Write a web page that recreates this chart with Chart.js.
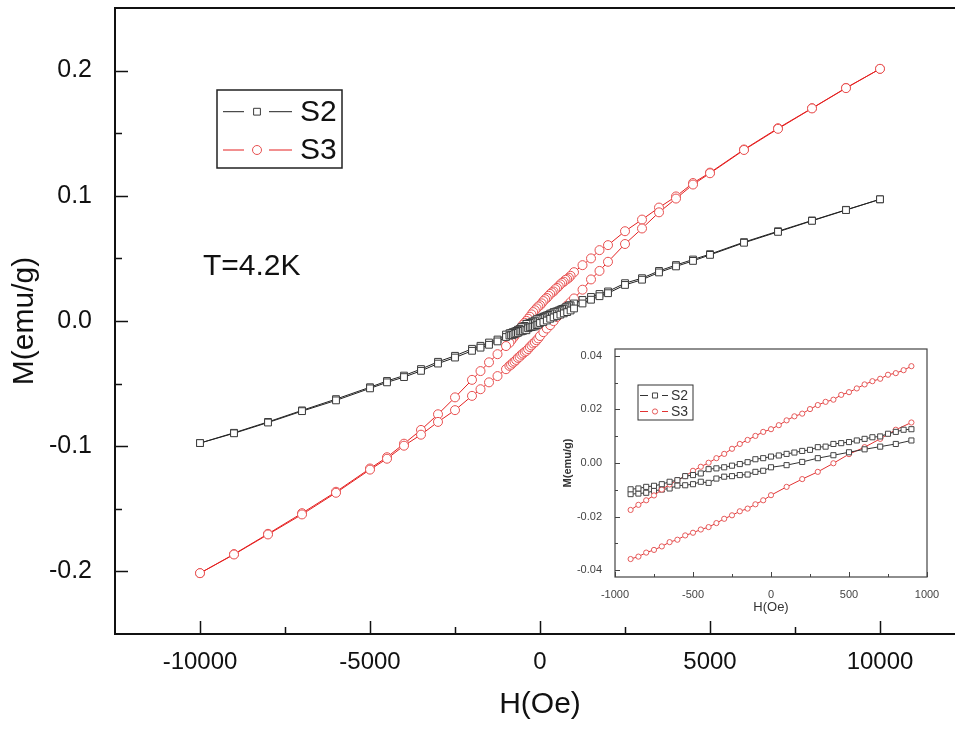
<!DOCTYPE html>
<html>
<head>
<meta charset="utf-8">
<script src="https://cdn.jsdelivr.net/npm/chart.js@4.4.1/dist/chart.umd.min.js"></script>
<style>
  html, body { margin: 0; padding: 0; background: #fff; overflow: hidden; }
  #wrap { position: relative; width: 955px; height: 729px; overflow: hidden; background: #fff; }
  #mainChart { position: absolute; left: 0; top: 0; }
  #insetChart { position: absolute; left: 555px; top: 340px; }
</style>
</head>
<body>
<div id="wrap">
  <canvas id="mainChart" width="985" height="729"></canvas>
  <canvas id="insetChart" width="395" height="280"></canvas>
</div>
<script>
// field values (Oe), in measurement order
const hHighDown = [10000, 9000, 8000, 7000, 6000, 5000, 4500, 4000, 3500, 3000, 2500, 2000, 1750, 1500, 1250, 1000];
const hInnerDown = [900, 850, 800, 750, 700, 650, 600, 550, 500, 450, 400, 350, 300, 250, 200, 150, 100, 50, 0,
  -50, -100, -150, -200, -250, -300, -350, -400, -450, -500, -550, -600, -650, -700, -750, -800, -850, -900];
const hLowDown = [-1000, -1250, -1500, -1750, -2000, -2500, -3000, -3500, -4000, -4500, -5000, -6000, -7000, -8000, -9000, -10000];
const hLowUp = [-10000, -9000, -8000, -7000, -6000, -5000, -4500, -4000, -3500, -3000, -2500, -2000, -1750, -1500, -1250, -1000];
const hInnerUp = [-900, -850, -800, -750, -700, -650, -600, -550, -500, -450, -400, -350, -300, -250, -200, -150, -100, -50, 0,
  100, 200, 300, 400, 500, 600, 700, 800, 900];
const hHighUp = [1000, 1250, 1500, 1750, 2000, 2500, 3000, 3500, 4000, 4500, 5000, 6000, 7000, 8000, 9000, 10000];

// S2 magnetization (emu/g)
const s2HighDown = [0.0972, 0.0888, 0.0803, 0.0717, 0.0630, 0.0534, 0.0491, 0.0447, 0.0400, 0.0342, 0.0302, 0.0236, 0.0216, 0.0192, 0.0168, 0.0140];
const s2InnerDown = [0.0126, 0.0124, 0.0116, 0.0109, 0.0099, 0.0096, 0.0090, 0.0084, 0.0078, 0.0074, 0.0071, 0.0061, 0.0059, 0.0049, 0.0045, 0.0039, 0.0034, 0.0028, 0.0024,
  0.0018, 0.0014, 0.0003, -0.0004, -0.0010, -0.0016, -0.0020, -0.0023, -0.0039, -0.0045, -0.0049, -0.0064, -0.0070, -0.0079, -0.0085, -0.0089, -0.0095, -0.0098];
const s2LowDown = [-0.0108, -0.0148, -0.0172, -0.0198, -0.0222, -0.0278, -0.0326, -0.0384, -0.0436, -0.0479, -0.0529, -0.0624, -0.0714, -0.0806, -0.0893, -0.0975];
const s2LowUp = [-0.0975, -0.0897, -0.0811, -0.0720, -0.0634, -0.0538, -0.0490, -0.0448, -0.0398, -0.0340, -0.0292, -0.0238, -0.0213, -0.0190, -0.0163, -0.0128];
const s2InnerUp = [-0.0116, -0.0114, -0.0111, -0.0104, -0.0099, -0.0095, -0.0084, -0.0083, -0.0079, -0.0070, -0.0074, -0.0058, -0.0051, -0.0049, -0.0045, -0.0043, -0.0033, -0.0029, -0.0016,
  -0.0008, 0.0004, 0.0018, 0.0029, 0.0040, 0.0051, 0.0061, 0.0071, 0.0084];
const s2HighUp = [0.0100, 0.0140, 0.0170, 0.0198, 0.0222, 0.0288, 0.0330, 0.0388, 0.0436, 0.0480, 0.0528, 0.0625, 0.0712, 0.0800, 0.0886, 0.0972];

// S3 magnetization (emu/g)
const s3HighDown = [0.2014, 0.1862, 0.1700, 0.1540, 0.1370, 0.1185, 0.1102, 0.0995, 0.0906, 0.0810, 0.0717, 0.0606, 0.0566, 0.0500, 0.0446, 0.0390];
const s3InnerDown = [0.0361, 0.0346, 0.0335, 0.0329, 0.0314, 0.0305, 0.0293, 0.0278, 0.0264, 0.0254, 0.0236, 0.0228, 0.0216, 0.0201, 0.0184, 0.0174, 0.0159, 0.0141, 0.0126,
  0.0116, 0.0101, 0.0086, 0.0071, 0.0053, 0.0034, 0.0018, 0.0001, -0.0014, -0.0029, -0.0049, -0.0064, -0.0080, -0.0099, -0.0121, -0.0139, -0.0156, -0.0175];
const s3LowDown = [-0.0200, -0.0265, -0.0330, -0.0400, -0.0470, -0.0610, -0.0745, -0.0870, -0.0980, -0.1088, -0.1178, -0.1364, -0.1535, -0.1700, -0.1862, -0.2014];
const s3LowUp = [-0.2014, -0.1865, -0.1705, -0.1545, -0.1372, -0.1187, -0.1100, -0.0996, -0.0908, -0.0806, -0.0712, -0.0598, -0.0545, -0.0490, -0.0440, -0.0385];
const s3InnerUp = [-0.0358, -0.0349, -0.0334, -0.0324, -0.0311, -0.0295, -0.0286, -0.0270, -0.0260, -0.0248, -0.0239, -0.0224, -0.0208, -0.0195, -0.0180, -0.0170, -0.0154, -0.0139, -0.0120,
  -0.0089, -0.0060, -0.0033, -0.0001, 0.0033, 0.0059, 0.0090, 0.0124, 0.0151];
const s3HighUp = [0.0180, 0.0250, 0.0332, 0.0400, 0.0473, 0.0615, 0.0739, 0.0868, 0.0978, 0.1090, 0.1180, 0.1366, 0.1535, 0.1698, 0.1860, 0.2014];

// ticks
const mainXMajor = [-10000, -5000, 0, 5000, 10000];
const mainXMinor = [-7500, -2500, 2500, 7500];
const mainYMajor = [-0.2, -0.1, 0, 0.1, 0.2];
const mainYMinor = [-0.15, -0.05, 0.05, 0.15];
const insetXMajor = [-1000, -500, 0, 500, 1000];
const insetXMinor = [-750, -250, 250, 750];
const insetYMajor = [-0.04, -0.02, 0, 0.02, 0.04];
const insetYMinor = [-0.03, -0.01, 0.01, 0.03];

const FONT = "'Liberation Sans', Arial, sans-serif";
const BLACK_LINE = '#222';
const BLACK_MARK = '#3a3a3a';
const RED_LINE = 'rgb(228,32,32)';
const RED_MARK = 'rgb(232,80,80)';

function pts(hs, ms) {
  return hs.map((h, i) => ({ x: h, y: ms[i] }));
}

// frame + inward ticks
const frameTicks = {
  id: 'frameTicks',
  afterDatasetsDraw(chart, args, o) {
    const ctx = chart.ctx, a = chart.chartArea, sx = chart.scales.x, sy = chart.scales.y;
    ctx.save();
    ctx.strokeStyle = o.color;
    ctx.lineWidth = o.tickWidth;
    ctx.beginPath();
    o.xMajor.forEach(v => { const p = Math.round(sx.getPixelForValue(v)) + 0.5; ctx.moveTo(p, a.bottom); ctx.lineTo(p, a.bottom - o.majorLen); });
    o.xMinor.forEach(v => { const p = Math.round(sx.getPixelForValue(v)) + 0.5; ctx.moveTo(p, a.bottom); ctx.lineTo(p, a.bottom - o.minorLen); });
    o.yMajor.forEach(v => { const p = Math.round(sy.getPixelForValue(v)) + 0.5; ctx.moveTo(a.left, p); ctx.lineTo(a.left + o.majorLen, p); });
    o.yMinor.forEach(v => { const p = Math.round(sy.getPixelForValue(v)) + 0.5; ctx.moveTo(a.left, p); ctx.lineTo(a.left + o.minorLen, p); });
    ctx.stroke();
    ctx.lineWidth = o.frameWidth;
    ctx.strokeRect(a.left, a.top, a.right - a.left, a.bottom - a.top);
    ctx.restore();
  }
};

// framed legend with line - marker - line samples
const boxLegend = {
  id: 'boxLegend',
  afterDraw(chart, args, o) {
    const ctx = chart.ctx;
    ctx.save();
    ctx.fillStyle = '#fff';
    ctx.fillRect(o.left, o.top, o.width, o.height);
    ctx.lineWidth = o.frameWidth;
    ctx.strokeStyle = o.frameColor;
    ctx.strokeRect(o.left, o.top, o.width, o.height);
    o.items.forEach((it, i) => {
      const ds = chart.data.datasets[it.dataset];
      const y = o.top + o.rowY[i];
      ctx.strokeStyle = ds.borderColor;
      ctx.lineWidth = 1;
      ctx.beginPath();
      ctx.moveTo(o.left + o.line[0], y); ctx.lineTo(o.left + o.line[1], y);
      ctx.moveTo(o.left + o.line[2], y); ctx.lineTo(o.left + o.line[3], y);
      ctx.stroke();
      ctx.fillStyle = '#fff';
      ctx.strokeStyle = ds.pointBorderColor;
      Chart.helpers.drawPoint(ctx, { pointStyle: ds.pointStyle, radius: ds.pointRadius, borderWidth: 1, rotation: 0 }, o.left + o.marker, y);
      ctx.fillStyle = o.textColor;
      ctx.font = o.font;
      ctx.textBaseline = 'middle';
      ctx.textAlign = 'left';
      ctx.fillText(it.label, o.left + o.text, y + 1);
    });
    if (o.note) {
      ctx.fillStyle = o.textColor;
      ctx.font = o.note.font;
      ctx.textBaseline = 'middle';
      ctx.fillText(o.note.text, o.note.x, o.note.y);
    }
    ctx.restore();
  }
};

function noPad(s) {
  s.paddingTop = 0;
  s.paddingBottom = 0;
}

// main loop
new Chart(document.getElementById('mainChart'), {
  type: 'scatter',
  data: {
    datasets: [{
      label: 'S2',
      data: pts(hHighDown, s2HighDown).concat(pts(hInnerDown, s2InnerDown), pts(hLowDown, s2LowDown),
        pts(hLowUp, s2LowUp), pts(hInnerUp, s2InnerUp), pts(hHighUp, s2HighUp)),
      showLine: true,
      borderColor: BLACK_LINE,
      borderWidth: 1,
      pointStyle: 'rect',
      pointRadius: 4.8,
      pointBorderColor: BLACK_MARK,
      pointBackgroundColor: '#fff',
      pointBorderWidth: 1
    }, {
      label: 'S3',
      data: pts(hHighDown, s3HighDown).concat(pts(hInnerDown, s3InnerDown), pts(hLowDown, s3LowDown),
        pts(hLowUp, s3LowUp), pts(hInnerUp, s3InnerUp), pts(hHighUp, s3HighUp)),
      showLine: true,
      borderColor: RED_LINE,
      borderWidth: 1,
      pointStyle: 'circle',
      pointRadius: 4.5,
      pointBorderColor: RED_MARK,
      pointBackgroundColor: '#fff',
      pointBorderWidth: 1
    }]
  },
  options: {
    responsive: false,
    animation: false,
    devicePixelRatio: 1,
    layout: { padding: { left: 0, top: 8, right: 20, bottom: 0 } },
    plugins: {
      legend: { display: false },
      tooltip: { enabled: false },
      frameTicks: {
        color: '#111', frameWidth: 2, tickWidth: 1.5, majorLen: 13, minorLen: 7,
        xMajor: mainXMajor, xMinor: mainXMinor, yMajor: mainYMajor, yMinor: mainYMinor
      },
      boxLegend: {
        left: 217, top: 90, width: 125, height: 78, frameWidth: 1.5, frameColor: '#222',
        rowY: [21.7, 60], line: [6, 27, 52, 75], marker: 40, text: 83,
        font: '30px ' + FONT, textColor: '#111',
        items: [{ dataset: 0, label: 'S2' }, { dataset: 1, label: 'S3' }],
        note: { text: 'T=4.2K', x: 203, y: 267, font: '30px ' + FONT }
      }
    },
    scales: {
      x: {
        type: 'linear', min: -12500, max: 12500,
        afterBuildTicks: s => { s.ticks = mainXMajor.map(v => ({ value: v })); },
        afterFit: s => { s.height = 95; s.paddingLeft = 0; s.paddingRight = 0; },
        grid: { display: false },
        border: { display: false },
        ticks: { font: { family: FONT, size: 24 }, color: '#111', padding: 6, maxRotation: 0, autoSkip: false, callback: v => String(v) },
        title: { display: true, text: 'H(Oe)', font: { family: FONT, size: 30 }, color: '#111', padding: { top: 0, bottom: 6 } }
      },
      y: {
        type: 'linear', min: -0.25, max: 0.25,
        afterBuildTicks: s => { s.ticks = mainYMajor.map(v => ({ value: v })); },
        afterFit: s => { s.width = 115; noPad(s); },
        grid: { display: false },
        border: { display: false },
        ticks: { font: { family: FONT, size: 25 }, color: '#111', padding: 15, autoSkip: false, callback: v => v.toFixed(1) },
        title: { display: true, text: 'M(emu/g)', font: { family: FONT, size: 30 }, color: '#111', padding: { top: 7, bottom: 0 } }
      }
    }
  },
  plugins: [frameTicks, boxLegend]
});

// low-field inset
new Chart(document.getElementById('insetChart'), {
  type: 'scatter',
  data: {
    datasets: [{
      label: 'S2',
      data: pts(hInnerDown, s2InnerDown),
      showLine: true, borderColor: '#333', borderWidth: 1,
      pointStyle: 'rect', pointRadius: 3.6, pointBorderColor: '#444', pointBackgroundColor: '#fff', pointBorderWidth: 1
    }, {
      label: 'S3',
      data: pts(hInnerDown, s3InnerDown),
      showLine: true, borderColor: 'rgb(226,50,50)', borderWidth: 1,
      pointStyle: 'circle', pointRadius: 2.6, pointBorderColor: 'rgb(230,90,90)', pointBackgroundColor: '#fff', pointBorderWidth: 1
    }, {
      label: 'S2 up',
      data: pts(hInnerUp, s2InnerUp),
      showLine: true, borderColor: '#333', borderWidth: 1,
      pointStyle: 'rect', pointRadius: 3.6, pointBorderColor: '#444', pointBackgroundColor: '#fff', pointBorderWidth: 1
    }, {
      label: 'S3 up',
      data: pts(hInnerUp, s3InnerUp),
      showLine: true, borderColor: 'rgb(226,50,50)', borderWidth: 1,
      pointStyle: 'circle', pointRadius: 2.6, pointBorderColor: 'rgb(230,90,90)', pointBackgroundColor: '#fff', pointBorderWidth: 1
    }]
  },
  options: {
    responsive: false,
    animation: false,
    devicePixelRatio: 1,
    layout: { padding: { left: 0, top: 9, right: 23, bottom: 0 } },
    plugins: {
      legend: { display: false },
      tooltip: { enabled: false },
      frameTicks: {
        color: '#444', frameWidth: 1.2, tickWidth: 1, majorLen: 5, minorLen: 3,
        xMajor: insetXMajor, xMinor: insetXMinor, yMajor: insetYMajor, yMinor: insetYMinor
      },
      boxLegend: {
        left: 83, top: 45, width: 55, height: 35, frameWidth: 1, frameColor: '#333',
        rowY: [10.5, 26.5], line: [2, 10, 24, 30], marker: 17, text: 33,
        font: '14px ' + FONT, textColor: '#333',
        items: [{ dataset: 0, label: 'S2' }, { dataset: 1, label: 'S3' }]
      }
    },
    scales: {
      x: {
        type: 'linear', min: -1000, max: 1000,
        afterBuildTicks: s => { s.ticks = insetXMajor.map(v => ({ value: v })); },
        afterFit: s => { s.height = 43; s.paddingLeft = 0; s.paddingRight = 0; },
        grid: { display: false },
        border: { display: false },
        ticks: { font: { family: FONT, size: 11 }, color: '#444', padding: 3, maxRotation: 0, autoSkip: false, callback: v => String(v) },
        title: { display: true, text: 'H(Oe)', font: { family: FONT, size: 13 }, color: '#333', padding: { top: 0, bottom: 5 } }
      },
      y: {
        type: 'linear', min: -0.0425, max: 0.0425,
        afterBuildTicks: s => { s.ticks = insetYMajor.map(v => ({ value: v })); },
        afterFit: s => { s.width = 60; noPad(s); },
        grid: { display: false },
        border: { display: false },
        ticks: { font: { family: FONT, size: 11 }, color: '#444', padding: 5, autoSkip: false, callback: v => v.toFixed(2) },
        title: { display: true, text: 'M(emu/g)', font: { family: FONT, size: 11, weight: 'bold' }, color: '#333', padding: { top: 6, bottom: 0 } }
      }
    }
  },
  plugins: [frameTicks, boxLegend]
});
</script>
</body>
</html>
